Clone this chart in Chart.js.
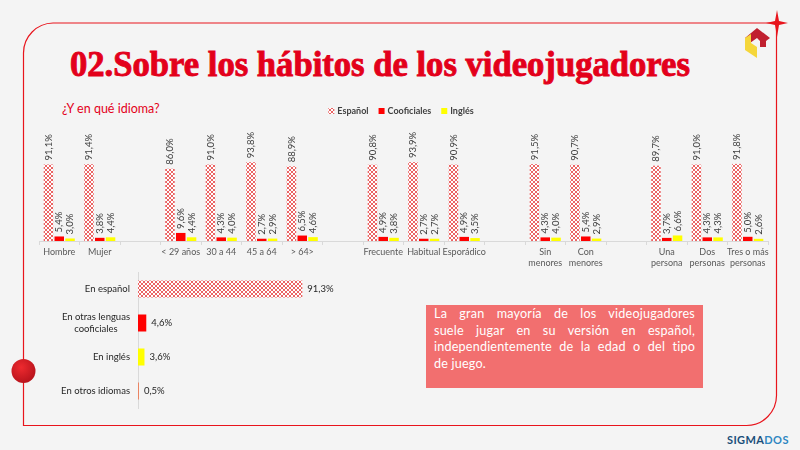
<!DOCTYPE html>
<html>
<head>
<meta charset="utf-8">
<script src="https://cdn.jsdelivr.net/npm/chart.js@4"></script>
<style>
  body { margin: 0; background: #f4f4f4; }
  #page { position: relative; width: 800px; height: 450px; overflow: hidden; background: #f4f4f4; font-family: Lato, sans-serif; }
  #deco { position: absolute; left: 0; top: 0; }
  #title { position: absolute; left: 70px; top: 47px; font: bold 35px "Liberation Serif", serif; line-height: 35px; color: #e3001b; -webkit-text-stroke: 0.9px #e3001b; white-space: nowrap; transform-origin: 0 0; }
  #question { position: absolute; left: 62px; top: 101px; font-size: 12.5px; color: #e3001b; }
  #topChart { position: absolute; left: 0; top: 100px; }
  #bottomChart { position: absolute; left: 0; top: 270px; }
  #note { position: absolute; left: 426px; top: 305px; width: 261px; height: 81px; padding: 1px 8px; background: #f26f6f; color: #fff; font-size: 12.6px; line-height: 16.5px; letter-spacing: 0.2px; }
  #note div { text-align: justify; text-align-last: justify; white-space: nowrap; }
  #note div:last-child { text-align-last: left; }
  #brand { position: absolute; left: 727px; top: 433px; font-size: 11px; font-weight: bold; letter-spacing: 0.4px; color: #1b4f7a; }
  #brand span { color: #2e86c1; }
</style>
</head>
<body>
<div id="page">
  <svg id="deco" width="800" height="450">
    <defs>
      <radialGradient id="dot" cx="0.4" cy="0.35" r="0.7">
        <stop offset="0" stop-color="#ee2a2f"/>
        <stop offset="1" stop-color="#b5121b"/>
      </radialGradient>
    </defs>
    <path d="M53 23 H776.5 V395 A30 30 0 0 1 746.5 425.5 H23.5 V53 A30 30 0 0 1 53 23" fill="none" stroke="#e8141c" stroke-width="1.2"/>
    <path d="M777 10 L779 21 L788 23 L779 25 L777 37 L775 25 L766 23 L775 21 Z" fill="#e8141c"/>
    <circle cx="23.5" cy="371" r="12" fill="url(#dot)"/>
    <polygon points="745,38 757,28 770,38 766,41 766,47 760,47 760,41 757,38 750,43" fill="#c0202f"/>
    <polygon points="745,38 751,34 751,43 757,47 757,58 745,50" fill="#f5d63a"/>
  </svg>
  <div id="title">02.Sobre los hábitos de los videojugadores</div>
  <div id="question">¿Y en qué idioma?</div>
  <canvas id="topChart" width="800" height="170"></canvas>
  <canvas id="bottomChart" width="420" height="145"></canvas>
  <div id="note">
    <div>La gran mayoría de los videojugadores</div>
    <div>suele jugar en su versión en español,</div>
    <div>independientemente de la edad o del tipo</div>
    <div>de juego.</div>
  </div>
  <div id="brand">SIGMA<span>DOS</span></div>
</div>
<script>
// grouped chart (blank entries are spacers between groups)
var groupLabels = [['Hombre'], ['Mujer'], '', ['< 29 años'], ['30 a 44'], ['45 a 64'], ['> 64>'], '',
  ['Frecuente'], ['Habitual'], ['Esporádico'], '', ['Sin', 'menores'], ['Con', 'menores'], '',
  ['Una', 'persona'], ['Dos', 'personas'], ['Tres o más', 'personas']];
var espanol = [91.1, 91.4, null, 86.0, 91.0, 93.8, 88.9, null, 90.8, 93.9, 90.9, null, 91.5, 90.7, null, 89.7, 91.0, 91.8];
var cooficiales = [5.4, 3.8, null, 9.6, 4.3, 2.7, 6.5, null, 4.9, 2.7, 4.9, null, 4.3, 5.4, null, 3.7, 4.3, 5.0];
var ingles = [3.0, 4.4, null, 4.4, 4.0, 2.9, 4.6, null, 3.8, 2.7, 3.5, null, 4.0, 2.9, null, 6.6, 4.3, 2.6];

// totals chart
var totalLabels = [['En español'], ['En otras lenguas', 'cooficiales'], ['En inglés'], ['En otros idiomas']];
var totalValues = [91.3, 4.6, 3.6, 0.5];

var fontFamily = 'Lato, sans-serif';

// title squeezed to the width of the original condensed face
var title = document.getElementById('title');
title.style.transform = 'scaleX(' + (620 / title.offsetWidth) + ')';

function makePattern() {
  var c = document.createElement('canvas');
  c.width = 4; c.height = 4;
  var g = c.getContext('2d');
  g.fillStyle = '#fff';
  g.fillRect(0, 0, 4, 4);
  g.strokeStyle = '#e63c3c';
  g.lineWidth = 0.8;
  g.beginPath();
  g.moveTo(0, 0); g.lineTo(4, 4);
  g.moveTo(4, 0); g.lineTo(0, 4);
  g.stroke();
  return g.createPattern(c, 'repeat');
}
var hatch = makePattern();

function pct(v) {
  return v.toFixed(1).replace('.', ',') + '%';
}

var topLabels = {
  id: 'topLabels',
  afterDatasetsDraw: function (chart) {
    var ctx = chart.ctx;
    ctx.save();
    ctx.font = '9.5px ' + fontFamily;
    ctx.fillStyle = '#404040';
    ctx.textAlign = 'left';
    ctx.textBaseline = 'middle';
    chart.data.datasets.forEach(function (ds, i) {
      chart.getDatasetMeta(i).data.forEach(function (bar, j) {
        var v = ds.data[j];
        if (v == null) return;
        ctx.save();
        ctx.translate(bar.x, bar.y - 4);
        ctx.rotate(-Math.PI / 2);
        ctx.fillText(pct(v), 0, 0);
        ctx.restore();
      });
    });

    // legend, centred on the plot
    ctx.font = 'bold 9px ' + fontFamily;
    var items = chart.data.datasets.map(function (ds) {
      return { label: ds.label, color: ds.backgroundColor, w: 9 + ctx.measureText(ds.label).width };
    });
    var total = items.reduce(function (s, it) { return s + it.w; }, 0) + 10 * (items.length - 1);
    var x = 401 - total / 2, y = 11;
    items.forEach(function (it) {
      ctx.fillStyle = it.color;
      ctx.fillRect(x, y - 3, 6, 6);
      ctx.fillStyle = '#404040';
      ctx.fillText(it.label, x + 9, y);
      x += it.w + 10;
    });
    ctx.restore();
  }
};

new Chart(document.getElementById('topChart'), {
  type: 'bar',
  data: {
    labels: groupLabels,
    datasets: [
      { label: 'Español', data: espanol, backgroundColor: hatch },
      { label: 'Cooficiales', data: cooficiales, backgroundColor: '#ff0000' },
      { label: 'Inglés', data: ingles, backgroundColor: '#ffff00' }
    ]
  },
  options: {
    responsive: false,
    animation: false,
    categoryPercentage: 0.8,
    barPercentage: 0.88,
    layout: { padding: { top: 57, left: 39, right: 32, bottom: 0 } },
    plugins: { legend: { display: false }, tooltip: { enabled: false } },
    scales: {
      x: {
        grid: { offset: true, drawOnChartArea: false, drawTicks: true, tickLength: 4, color: '#d9d9d9' },
        border: { color: '#d9d9d9' },
        ticks: { font: { size: 9, family: fontFamily }, color: '#595959', padding: 2, maxRotation: 0, autoSkip: false },
        afterFit: function (s) { s.height = 29; }
      },
      y: { display: false, min: 0, max: 100 }
    }
  },
  plugins: [topLabels]
});

var bottomLabels = {
  id: 'bottomLabels',
  afterDatasetsDraw: function (chart) {
    var ctx = chart.ctx;
    var yScale = chart.scales.y;
    ctx.save();
    ctx.font = '9.5px ' + fontFamily;
    ctx.fillStyle = '#262626';
    ctx.textBaseline = 'middle';
    // values
    ctx.textAlign = 'left';
    chart.getDatasetMeta(0).data.forEach(function (bar, j) {
      ctx.fillText(pct(totalValues[j]), bar.x + 5, bar.y);
    });
    // category labels: block right-aligned, lines centred inside it
    ctx.textAlign = 'center';
    totalLabels.forEach(function (lines, j) {
      var cy = yScale.getPixelForValue(j);
      var bw = Math.max.apply(null, lines.map(function (l) { return ctx.measureText(l).width; }));
      var cx = yScale.right - 8 - bw / 2;
      var lh = 12;
      lines.forEach(function (l, k) {
        ctx.fillText(l, cx, cy + (k - (lines.length - 1) / 2) * lh);
      });
    });
    ctx.restore();
  }
};

new Chart(document.getElementById('bottomChart'), {
  type: 'bar',
  data: {
    labels: totalLabels,
    datasets: [{
      data: totalValues,
      backgroundColor: [hatch, '#ff0000', '#ffff00', '#ee7b55'],
      barPercentage: 0.5,
      categoryPercentage: 1
    }]
  },
  options: {
    indexAxis: 'y',
    responsive: false,
    animation: false,
    layout: { padding: { top: 2, bottom: 7, left: 0, right: 102 } },
    plugins: { legend: { display: false }, tooltip: { enabled: false } },
    scales: {
      y: {
        grid: { display: false },
        border: { color: '#d9d9d9' },
        ticks: { display: false },
        afterFit: function (s) { s.width = 138; }
      },
      x: { display: false, min: 0, max: 100 }
    }
  },
  plugins: [bottomLabels]
});
</script>
</body>
</html>
